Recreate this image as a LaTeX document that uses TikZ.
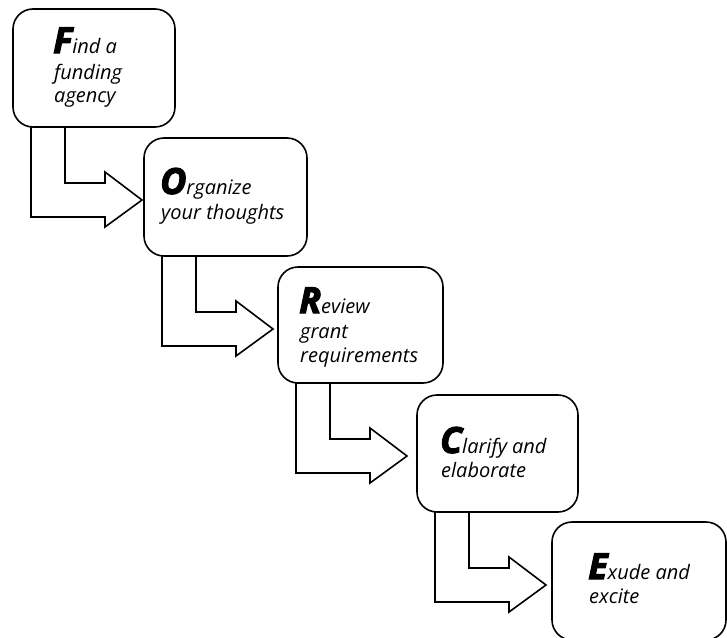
\documentclass[tikz,border=0pt]{standalone}
\usepackage{fontspec}
\setmainfont{Open Sans}
\newfontfamily\initfont{Open Sans}[FakeBold=3]
\usetikzlibrary{calc}
\tikzset{
  stepbox/.style={draw, line width=1.6pt, rounded corners=20pt, inner sep=0pt, outer sep=0pt, anchor=north west},
  bentarrow/.style={draw, line width=1.6pt, line join=miter},
  txt/.style={anchor=base west, inner sep=0pt, font=\itshape\fontsize{20}{24}\selectfont},
}
\newcommand\initial[1]{{\fontsize{36}{36}\selectfont\initfont\bfseries\itshape #1}}
\newcommand\stepconn[1]{%
  \draw[bentarrow] ($(#1.south west)+(18,0)$) -- ++(0,90) -- ++(74,0) -- ++(0,10)
    -- ++(37,-27) -- ++(-37,-28) -- ++(0,11) -- ++(-40,0) -- ++(0,-56);}
\begin{document}
\begin{tikzpicture}[x=1pt,y=-1pt]
\useasboundingbox (0,0) rectangle (727,637);
\node[stepbox, minimum width=162pt, minimum height=118pt] (F) at (13,9) {};
\node[stepbox, minimum width=163pt, minimum height=118pt] (O) at (144,138) {};
\node[stepbox, minimum width=165pt, minimum height=116pt] (R) at (278,267) {};
\node[stepbox, minimum width=161pt, minimum height=117pt] (C) at (417,395) {};
\node[stepbox, minimum width=174pt, minimum height=118pt] (E) at (552,522) {};
\stepconn{F}
\stepconn{O}
\stepconn{R}
\stepconn{C}
\node[txt] (F1) at (53,53) {\initial{F}ind a};
\node[txt] (F2) at (54,79) {funding};
\node[txt] (F3) at (54,102) {agency};
\node[txt] (O1) at (160,194) {\initial{O}rganize};
\node[txt] (O2) at (161,219) {your thoughts};
\node[txt] (R1) at (299,313) {\initial{R}eview};
\node[txt] (R2) at (300,338) {grant};
\node[txt] (R3) at (300,362) {requirements};
\node[txt] (C1) at (440,453) {\initial{C}larify and};
\node[txt] (C2) at (441,477) {elaborate};
\node[txt] (E1) at (588,579) {\initial{E}xude and};
\node[txt] (E2) at (589,603) {excite};
\end{tikzpicture}
\end{document}
